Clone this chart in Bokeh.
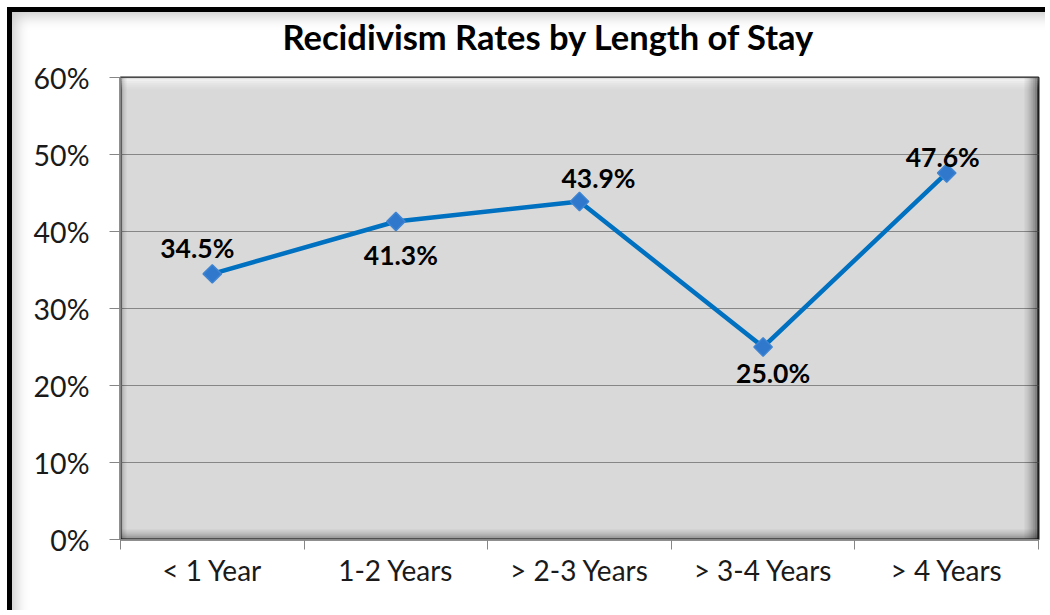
from bokeh.plotting import figure
from bokeh.models import (Range1d, FixedTicker, NumeralTickFormatter, BoxAnnotation,
                          ColumnDataSource, Title)
from bokeh.core.properties import value
from bokeh.embed import file_html
from bokeh.resources import INLINE

# --- data -------------------------------------------------------------
categories = ["< 1 Year", "1-2 Years", "> 2-3 Years", "> 3-4 Years", "> 4 Years"]
rates = [0.345, 0.413, 0.439, 0.250, 0.476]
rate_labels = ["34.5%", "41.3%", "43.9%", "25.0%", "47.6%"]
y_ticks = [0.0, 0.1, 0.2, 0.3, 0.4, 0.5, 0.6]

# label nudges in pixels (dx right, dy down)
label_dx = [-15, 5, 19, 10, -4]
label_dy = [-26, 34, -23, 26, -16]

FONT = "Lato"

# outer chart frame: heavy border on top/left, page window is 1050x615
EDGE = 12          # canvas starts this far into the window
W, H = 1050 - EDGE, 615 - EDGE

p = figure(width=W, height=H, output_backend="svg", toolbar_location=None,
           x_range=Range1d(0, len(categories)), y_range=Range1d(0, 0.6),
           min_border_left=120 - EDGE, min_border_right=12,
           min_border_top=77 - EDGE, min_border_bottom=76,
           background_fill_color="#D9D9D9",
           border_fill_color="white", border_fill_alpha=0,
           title="Recidivism Rates by Length of Stay",
           styles={"margin-left": "7px", "margin-top": "7px",
                   "border-top": "5px solid black",
                   "border-left": "5px solid black",
                   "background": "white",
                   "box-shadow": "inset 10px 10px 14px -6px rgba(0,0,0,0.22)"})

# title is centred over the whole chart box rather than the plotting area
p.title.align = "left"
p.title.offset = 162
p.title.text_font = FONT
p.title.text_font_style = "bold"
p.title.text_font_size = "34.5px"
p.title.text_color = "black"
p.title.standoff = 0

# blank band between the title and the plotting area
p.add_layout(Title(text=" ", text_font_size="10px", standoff=8), "above")

p.outline_line_color = "#202020"
p.outline_line_width = 2

# x positions: middle of each category slot
xs = [i + 0.5 for i in range(len(categories))]

# y axis
ya = p.yaxis[0]
ya.ticker = FixedTicker(ticks=y_ticks)
ya.formatter = NumeralTickFormatter(format="0%")
ya.major_tick_in = 0
ya.major_tick_out = 11
ya.minor_tick_line_color = None
ya.major_tick_line_color = "#868686"
ya.axis_line_color = "#868686"
ya.major_label_text_font = FONT
ya.major_label_text_font_size = "28.5px"
ya.major_label_text_color = "#1a1a1a"
ya.major_label_standoff = 20

# x axis: labels centred in each slot, tick marks on slot boundaries
xa = p.xaxis[0]
xa.ticker = FixedTicker(ticks=xs, minor_ticks=list(range(len(categories) + 1)))
xa.major_label_overrides = {x: c for x, c in zip(xs, categories)}
xa.major_tick_line_color = None
xa.minor_tick_in = 0
xa.minor_tick_out = 10
xa.minor_tick_line_color = "#868686"
xa.axis_line_color = "#868686"
xa.major_label_text_font = FONT
xa.major_label_text_font_size = "28px"
xa.major_label_text_color = "#1a1a1a"
xa.major_label_standoff = 3

p.xgrid.grid_line_color = None
p.ygrid.ticker = FixedTicker(ticks=y_ticks)
p.ygrid.grid_line_color = "#868686"
p.ygrid.grid_line_width = 1

# --- bevel shading on the plotting area (screen units from frame bottom-left)
fw, fh = W - (120 - EDGE) - 12, H - (77 - EDGE) - 76
def strip(**kw):
    b = BoxAnnotation(left_units="screen", right_units="screen",
                      top_units="screen", bottom_units="screen",
                      line_color=None, level="underlay", **kw)
    p.add_layout(b)

for k, a in enumerate([0.75, 0.6, 0.45, 0.3, 0.18, 0.08]):
    strip(bottom=fh - 2 * (k + 1), top=fh - 2 * k, fill_color="white", fill_alpha=a)
for k, a in enumerate([0.5, 0.4, 0.3, 0.22, 0.15, 0.09, 0.05]):
    strip(left=fw - 2 * (k + 1), right=fw - 2 * k, fill_color="black", fill_alpha=a)
for k, a in enumerate([0.35, 0.25, 0.17, 0.1, 0.05]):
    strip(bottom=2 * k, top=2 * (k + 1), fill_color="black", fill_alpha=a)
for k, a in enumerate([0.25, 0.12, 0.05]):
    strip(left=2 * k, right=2 * (k + 1), fill_color="black", fill_alpha=a)

# --- series
src = ColumnDataSource(dict(x=xs, y=rates, label=rate_labels,
                            dx=label_dx, dy=label_dy))
p.line("x", "y", source=src, line_color="#0070C0", line_width=4.5)
p.scatter("x", "y", source=src, marker="square", angle=0.785398, size=13,
          fill_color="#2F78CC", line_color="#3F84D2", line_width=1.5)
p.text("x", "y", text="label", source=src, x_offset="dx", y_offset="dy",
       text_align="center", text_baseline="middle",
       text_font=value(FONT), text_font_style="bold", text_font_size="26.5px",
       text_color="black")

open("out.html", "w").write(file_html(p, INLINE))
